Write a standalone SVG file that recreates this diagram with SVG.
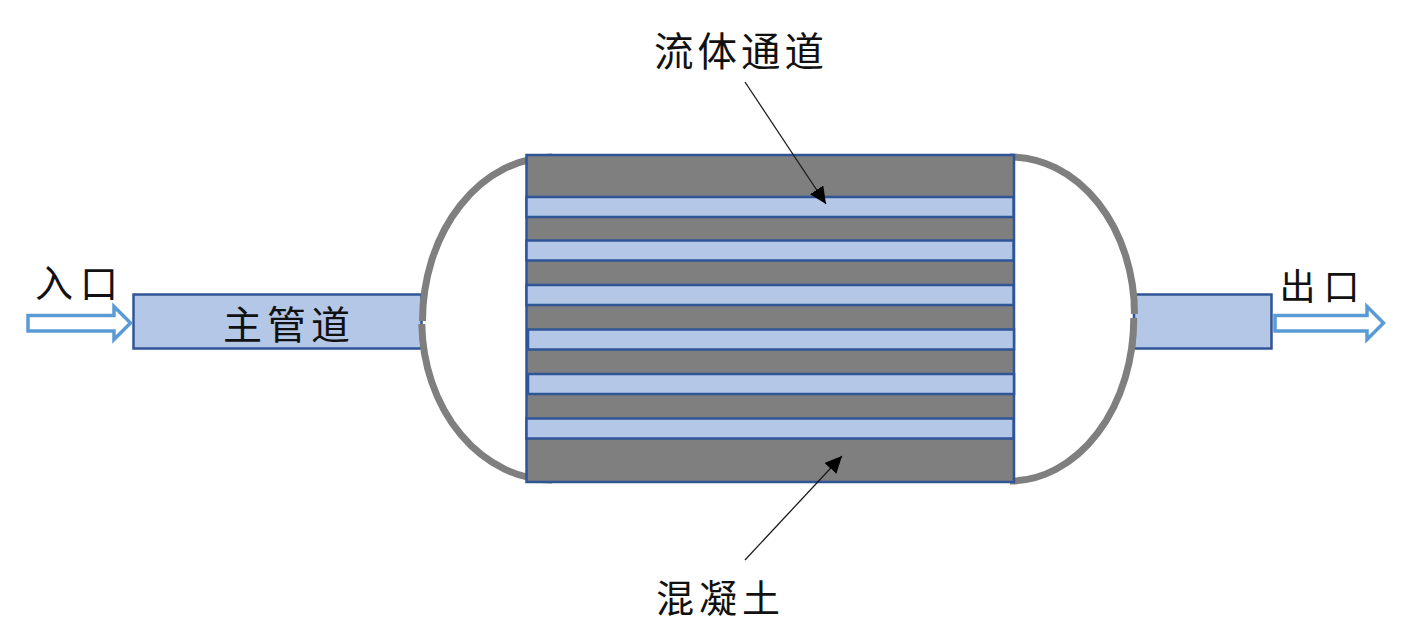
<svg xmlns="http://www.w3.org/2000/svg" width="1428" height="640" viewBox="0 0 1428 640">
<style>
.pipe{fill:#b4c7e7;stroke:#2f5597;stroke-width:2.5}
.body{fill:#7f7f7f;stroke:#2f5597;stroke-width:2.5}
.wall{fill:none;stroke:#7f7f7f;stroke-width:7}
.flow{fill:#fff;stroke:#5b9bd5;stroke-width:3.5}
.lead{fill:none;stroke:#1a1a1a;stroke-width:1.3}
text{font-family:"Noto Sans CJK SC","Noto Sans CJK JP",sans-serif;fill:#111;font-weight:400}
</style>
<defs>
<marker id="ah" markerUnits="userSpaceOnUse" markerWidth="18" markerHeight="18" refX="17" refY="8" orient="auto">
<path d="M0 0L17 8L0 16Z" fill="#000"/>
</marker>
</defs>
<rect width="1428" height="640" fill="#fff"/>
<g id="main-pipe">
<rect class="pipe" x="133.500" y="294.500" width="288" height="54"/>
<text x="223" y="338.500" font-size="39" letter-spacing="5">主管道</text>
</g>
<g id="outlet-pipe">
<rect class="pipe" x="1134" y="294.500" width="137.500" height="54"/>
</g>
<g id="left-head">
<path class="wall" d="M552 157A130 164 0 0 0 422.500 321"/>
<path class="wall" d="M421.800 324A130 159 0 0 0 552 480"/>
</g>
<g id="right-head">
<path class="wall" d="M1010 157A124 157 0 0 1 1134.500 314"/>
<path class="wall" d="M1133.800 318A124 163 0 0 1 1010 481"/>
</g>
<g id="concrete-body">
<rect class="body" x="526.500" y="155" width="487.500" height="327"/>
</g>
<g id="channels">
<rect class="pipe" x="526.500" y="197" width="487" height="20"/>
<rect class="pipe" x="526.500" y="240.500" width="487" height="20"/>
<rect class="pipe" x="526.500" y="285" width="487" height="20"/>
<rect class="pipe" x="528" y="329.500" width="486" height="20"/>
<rect class="pipe" x="528" y="374" width="486" height="20"/>
<rect class="pipe" x="526.500" y="418.500" width="487" height="20"/>
</g>
<g id="label-inlet"><text x="35" y="297" font-size="38" letter-spacing="7">入口</text></g>
<g id="label-outlet"><text x="1279.500" y="299.500" font-size="36" letter-spacing="8">出口</text></g>
<g id="label-channel"><text x="654" y="65.500" font-size="39.500" letter-spacing="4">流体通道</text></g>
<g id="label-concrete"><text x="656" y="612" font-size="38" letter-spacing="5">混凝土</text></g>
<g id="connectors">
<path class="lead" d="M745 82L826 204" marker-end="url(#ah)"/>
<path class="lead" d="M745 560L842 456" marker-end="url(#ah)"/>
<path class="flow" d="M28 315.500H114V306.500L130.500 323L114 339.500V331H28Z"/>
<path class="flow" d="M1275 315.500H1367V306.500L1383.500 323L1367 339.500V331H1275Z"/>
</g>
</svg>
